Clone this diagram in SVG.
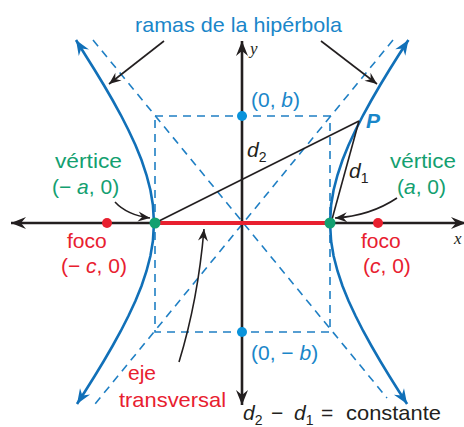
<svg xmlns="http://www.w3.org/2000/svg" width="464" height="427" viewBox="0 0 464 427">
<defs>
<style>
.t{font-family:"Liberation Sans",Arial,sans-serif;font-size:21px}
.i{font-style:italic}
.blue{fill:#1a86c9}
.green{fill:#13a070}
.red{fill:#e8202f}
.blk{fill:#231f20}
.dash{fill:none;stroke:#1f7fc4;stroke-width:1.6;stroke-dasharray:8 6}
.hyp{fill:none;stroke:#1170b8;stroke-width:2.6;marker-start:url(#ab);marker-end:url(#ab)}
.axis{fill:none;stroke:#231f20;stroke-width:2.6;marker-start:url(#ak);marker-end:url(#ak)}
.ptr{fill:none;stroke:#231f20;stroke-width:1.6;marker-end:url(#ap)}
.seg{fill:none;stroke:#231f20;stroke-width:1.6}
.sub{font-size:14px}
</style>
<marker id="ab" markerUnits="userSpaceOnUse" markerWidth="20" markerHeight="16" viewBox="-16 -8 20 16" refX="0" refY="0" orient="auto-start-reverse">
<path d="M0,0 L-15,-6 L-10,0 L-15,6 Z" fill="#1170b8"/>
</marker>
<marker id="ak" markerUnits="userSpaceOnUse" markerWidth="20" markerHeight="16" viewBox="-16 -8 20 16" refX="0" refY="0" orient="auto-start-reverse">
<path d="M0,0 L-15,-6 L-10,0 L-15,6 Z" fill="#231f20"/>
</marker>
<marker id="ap" markerUnits="userSpaceOnUse" markerWidth="16" markerHeight="12" viewBox="-13 -6 16 12" refX="0" refY="0" orient="auto">
<path d="M0,0 L-12,-5 L-8,0 L-12,5 Z" fill="#231f20"/>
</marker>
</defs>

<g id="guides">
<path class="dash" d="M155,116 H330 V332 H155 Z"/>
<path class="dash" d="M93,40 L387,398"/>
<path class="dash" d="M393,40 L95,404"/>
</g>

<g id="axes">
<path class="axis" d="M11,223 H466"/>
<path class="axis" d="M242,405 V41"/>
<text class="i" x="250" y="54" font-family="Liberation Serif,serif" font-size="17" fill="#231f20">y</text>
<text class="i" x="454" y="244" font-family="Liberation Serif,serif" font-size="17" fill="#231f20">x</text>
</g>

<g id="transverse-axis">
<path d="M155,223 H330" stroke="#e8202f" stroke-width="4" fill="none"/>
</g>

<g id="branch-right">
<polyline class="hyp" points="407.1,404 398.7,391 389.3,376 380.2,361 371.5,346 363.2,331 355.6,316 348.6,301 342.5,286 337.5,271 333.6,256 331.1,241 330,223 331.1,205 333.6,190 337.5,175 342.5,160 348.6,145 355.6,130 363.2,115 371.5,100 380.2,85 389.3,70 398.7,55 408.4,40"/>
</g>
<g id="branch-left">
<polyline class="hyp" points="77,404 85.3,391 94.7,376 103.8,361 112.5,346 120.8,331 128.4,316 135.4,301 141.5,286 146.5,271 150.4,256 152.9,241 154,223 152.9,205 150.4,190 146.5,175 141.5,160 135.4,145 128.4,130 120.8,115 112.5,100 103.8,85 94.7,70 85.3,55 76,40"/>
</g>

<g id="distances">
<path class="seg" d="M155,223 L359,121"/>
<path class="seg" d="M359,121 L331,223"/>
<text class="t i blk" x="247" y="157">d<tspan class="sub" dy="5" font-style="normal">2</tspan></text>
<text class="t i blk" x="349" y="178">d<tspan class="sub" dy="5" font-style="normal">1</tspan></text>
</g>

<g id="point-P">
<text class="t blue" x="366" y="128" font-weight="bold" font-style="italic" font-size="19">P</text>
</g>

<g id="point-b">
<circle cx="242" cy="116" r="5" fill="#0a93db"/>
<text class="t blue" x="251" y="107">(0, <tspan class="i">b</tspan>)</text>
</g>
<g id="point-minus-b">
<circle cx="242" cy="332" r="5" fill="#0a93db"/>
<text class="t blue" x="251" y="360">(0, − <tspan class="i">b</tspan>)</text>
</g>

<g id="vertex-left">
<circle cx="155" cy="223" r="5.5" fill="#13a070"/>
<text class="t green" x="55" y="168" textLength="67" lengthAdjust="spacingAndGlyphs">vértice</text>
<text class="t green" x="52" y="194">(− <tspan class="i">a</tspan>, 0)</text>
</g>
<g id="vertex-right">
<circle cx="330" cy="223" r="5.5" fill="#13a070"/>
<text class="t green" x="390" y="168" textLength="66" lengthAdjust="spacingAndGlyphs">vértice</text>
<text class="t green" x="397" y="194">(<tspan class="i">a</tspan>, 0)</text>
</g>

<g id="focus-left">
<circle cx="107" cy="223" r="5" fill="#e8202f"/>
<text class="t red" x="67" y="248">foco</text>
<text class="t red" x="61" y="273">(− <tspan class="i">c</tspan>, 0)</text>
</g>
<g id="focus-right">
<circle cx="378" cy="223" r="5" fill="#e8202f"/>
<text class="t red" x="361" y="248">foco</text>
<text class="t red" x="363" y="273">(<tspan class="i">c</tspan>, 0)</text>
</g>

<g id="label-ramas">
<text class="t blue" x="135" y="32" textLength="207" lengthAdjust="spacingAndGlyphs">ramas de la hipérbola</text>
</g>
<g id="label-eje">
<text class="t red" x="128" y="380">eje</text>
<text class="t red" x="119" y="407" textLength="107" lengthAdjust="spacingAndGlyphs">transversal</text>
</g>
<g id="label-formula">
<text class="t blk" x="243" y="420"><tspan class="i">d</tspan><tspan class="sub" dy="5">2</tspan><tspan x="271" dy="-5">−</tspan><tspan class="i" x="294">d</tspan><tspan class="sub" dy="5">1</tspan><tspan x="321" dy="-5">=</tspan><tspan x="346" textLength="95" lengthAdjust="spacingAndGlyphs">constante</tspan></text>
</g>

<g id="connectors">
<path class="ptr" d="M164,41 L109,84"/>
<path class="ptr" d="M321,41 L377,84"/>
<path class="ptr" d="M115,202 Q127,215 150,218"/>
<path class="ptr" d="M397,198 Q370,216 335,218"/>
<path class="ptr" d="M179,362 Q198,300 204,229"/>
</g>
</svg>
